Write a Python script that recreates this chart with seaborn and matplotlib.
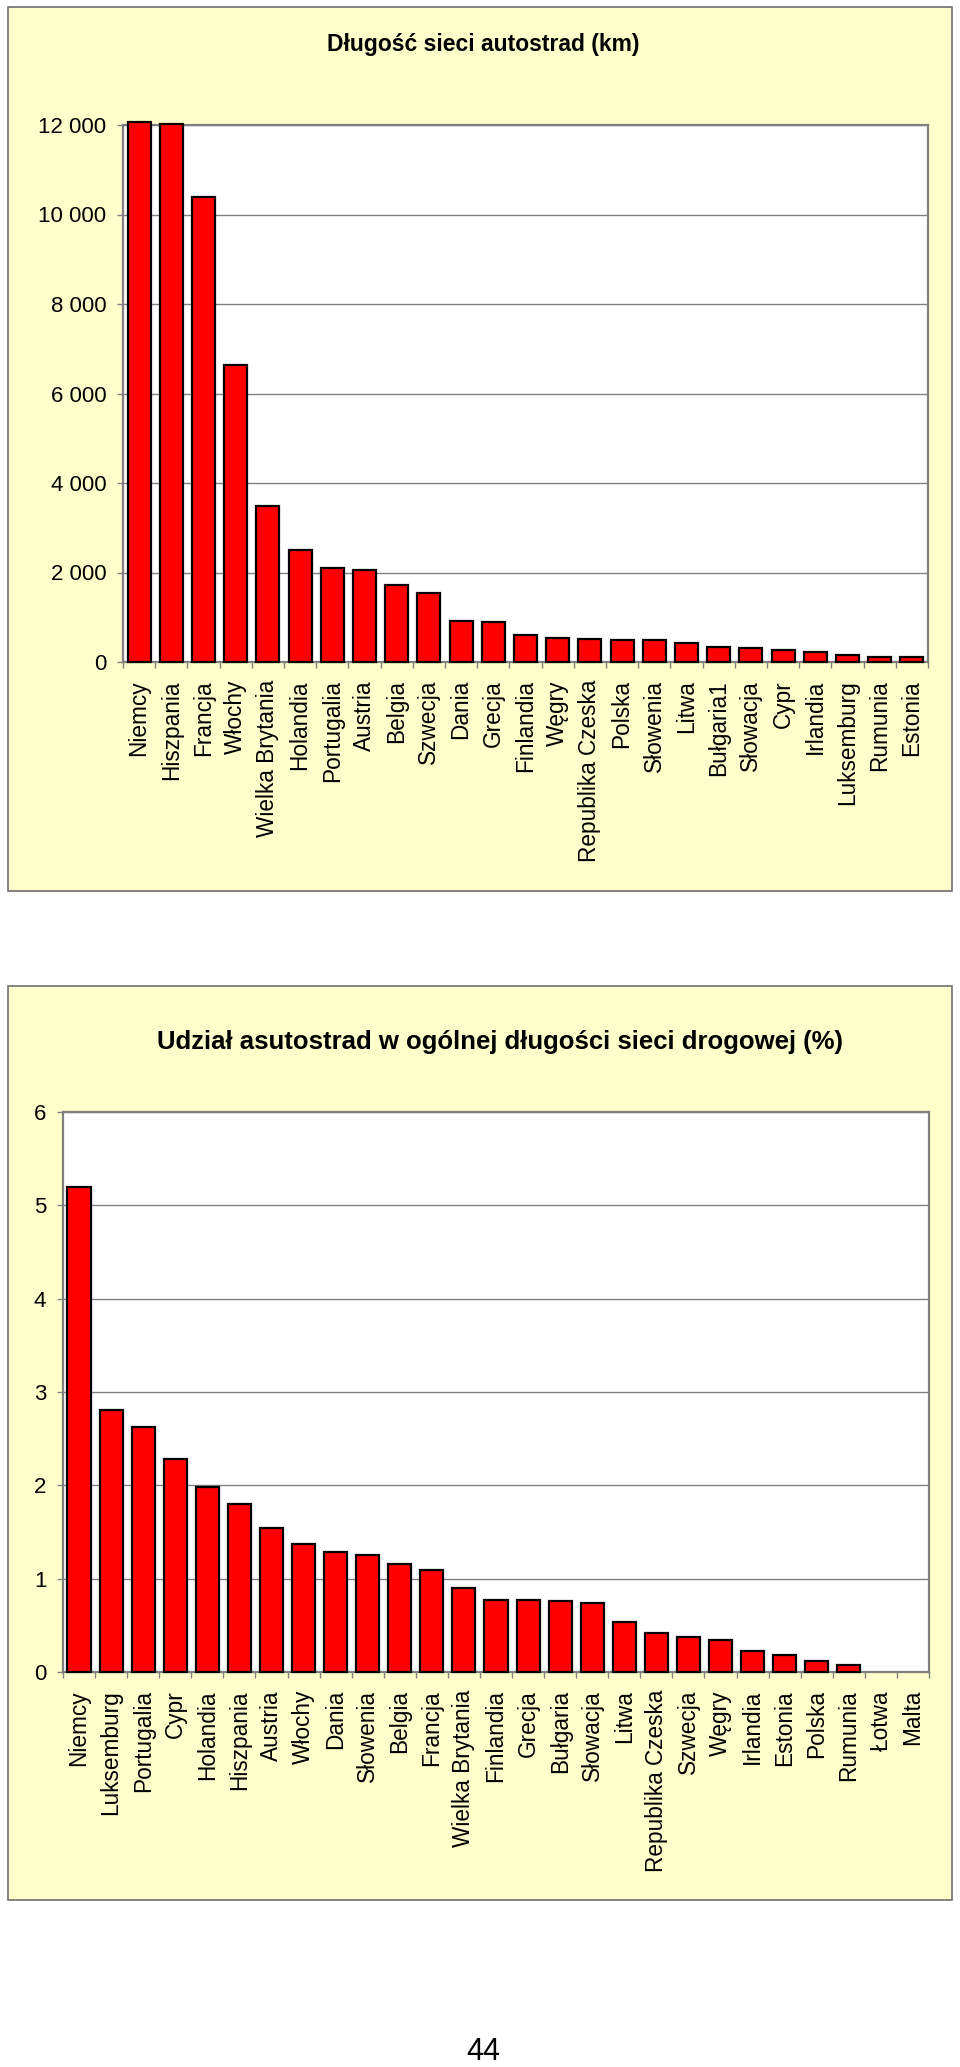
import numpy as np
import matplotlib
matplotlib.use("Agg")
import matplotlib.pyplot as plt
import matplotlib.ticker as mtick
from matplotlib.patches import Rectangle
import seaborn as sns

sns.set_style("white")
plt.rcParams['font.family'] = ['Liberation Sans', 'DejaVu Sans']
plt.rcParams['text.color'] = 'black'

# Długość sieci autostrad (km)
kraje_km = ['Niemcy', 'Hiszpania', 'Francja', 'Włochy', 'Wielka Brytania', 'Holandia',
            'Portugalia', 'Austria', 'Belgia', 'Szwecja', 'Dania', 'Grecja', 'Finlandia',
            'Węgry', 'Republika Czeska', 'Polska', 'Słowenia', 'Litwa', 'Bułgaria1',
            'Słowacja', 'Cypr', 'Irlandia', 'Luksemburg', 'Rumunia', 'Estonia']
dlugosc_km = [12060, 12020, 10400, 6630, 3490, 2510, 2090, 2050, 1730, 1545, 920, 885,
              612, 537, 522, 493, 485, 425, 336, 321, 276, 216, 157, 119, 105]

# Udział autostrad w ogólnej długości sieci drogowej (%)
kraje_proc = ['Niemcy', 'Luksemburg', 'Portugalia', 'Cypr', 'Holandia', 'Hiszpania',
              'Austria', 'Włochy', 'Dania', 'Słowenia', 'Belgia', 'Francja',
              'Wielka Brytania', 'Finlandia', 'Grecja', 'Bułgaria', 'Słowacja', 'Litwa',
              'Republika Czeska', 'Szwecja', 'Węgry', 'Irlandia', 'Estonia', 'Polska',
              'Rumunia', 'Łotwa', 'Malta']
udzial_proc = [5.20, 2.81, 2.63, 2.28, 1.98, 1.80, 1.54, 1.37, 1.29, 1.25, 1.16, 1.09,
               0.90, 0.77, 0.77, 0.76, 0.74, 0.54, 0.42, 0.37, 0.34, 0.22, 0.18, 0.12,
               0.07, 0.0, 0.0]

panel_bg = '#FFFFCC'
grey = '#808080'

fig = plt.figure(figsize=(9.6, 20.67), dpi=100)
W, H = 960, 2067


def fx(px):
    return px / W


def fy(px):
    return 1 - px / H


# yellow panels behind each chart
for top, bottom in [(7, 891), (986, 1900)]:
    fig.patches.append(Rectangle((fx(8), fy(bottom)), fx(944), (bottom - top) / H,
                                 transform=fig.transFigure, facecolor=panel_bg,
                                 edgecolor='#707070', linewidth=1.2, zorder=-5))


def draw_chart(ax, cats, vals, ymax, ystep, fmt):
    sns.barplot(x=cats, y=vals, color='#FF0000', saturation=1, edgecolor='black',
                linewidth=1.6, width=0.72, ax=ax, zorder=3)
    for bar in ax.patches:
        bar.set_clip_on(False)
        if bar.get_height() == 0:
            bar.set_visible(False)
    ax.set_facecolor('white')
    ax.set_xlim(-0.5, len(cats) - 0.5)
    ax.set_ylim(0, ymax)
    ax.set_yticks(np.arange(0, ymax + ystep / 2, ystep))
    ax.yaxis.set_major_formatter(mtick.FuncFormatter(fmt))
    ax.yaxis.grid(True, color=grey, linewidth=1, zorder=0)
    ax.set_axisbelow(True)
    for s in ax.spines.values():
        s.set_color(grey)
        s.set_linewidth(1.6)
    ax.set_xticks(np.arange(-0.5, len(cats), 1), minor=True)
    ax.tick_params(axis='x', which='major', length=0, pad=13, labelsize=16.3,
                   labelrotation=90, labelcolor='black')
    ax.tick_params(axis='x', which='minor', length=4, width=1, color=grey,
                   direction='out', bottom=True)
    ax.tick_params(axis='y', length=4, width=1, color=grey, direction='out',
                   left=True, labelsize=16, pad=8, labelcolor='black')
    ax.set_xlabel('')
    ax.set_ylabel('')


ax1 = fig.add_axes([fx(123), fy(662), fx(805), 537 / H])
draw_chart(ax1, kraje_km, dlugosc_km, 12000, 2000,
           lambda v, p: f'{v:,.0f}'.replace(',', ' '))

ax2 = fig.add_axes([fx(63), fy(1672), fx(866), 560 / H])
draw_chart(ax2, kraje_proc, udzial_proc, 6, 1, lambda v, p: f'{v:.0f}')

fig.text(fx(483), fy(45), 'Długość sieci autostrad (km)', ha='center', va='center',
         fontsize=16.5, fontweight='bold')
fig.text(fx(500), fy(1042), 'Udział asutostrad w ogólnej długości sieci drogowej (%)',
         ha='center', va='center', fontsize=18.5, fontweight='bold')
fig.text(fx(483), fy(2052), '44', ha='center', va='center', fontsize=22)

fig.savefig('out.png', dpi=100, facecolor='white')
